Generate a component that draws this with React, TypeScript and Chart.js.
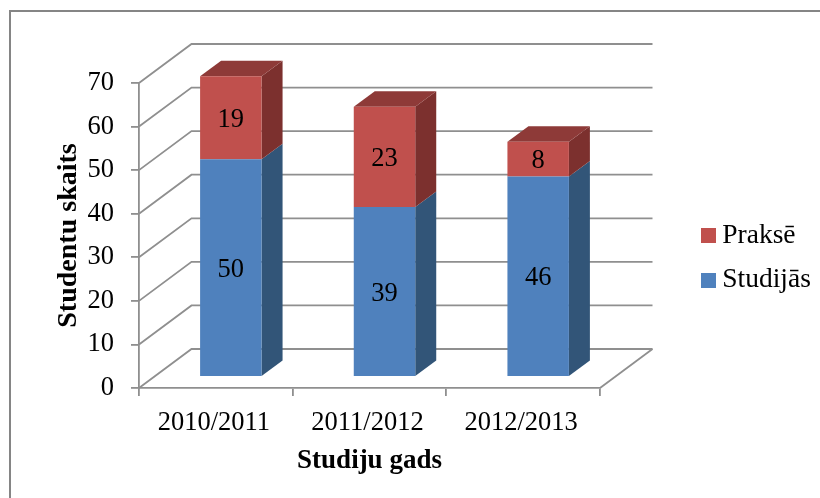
import React, { useEffect, useRef } from "react";
import { Chart, registerables } from "chart.js";

Chart.register(...registerables);

const years = ["2010/2011", "2011/2012", "2012/2013"];
const studijas = [50, 39, 46];
const prakse = [19, 23, 8];
const yMax = 70;
const yStep = 10;

const FONT = "'Liberation Serif', serif";
const GRID = "#8f8f8f";
const BLUE = { front: "#4F81BD", side: "#325578", top: "#3b638f" };
const RED = { front: "#C0504D", side: "#7C302E", top: "#8E3A38" };

// depth offsets of the pseudo-3D box (pixels)
const WALL = { dx: 52.5, dy: -39 };
const BAR_FRONT = { dx: 15, dy: -11 };
const BAR_DEPTH = { dx: 21, dy: -15.5 };

function swatch(color: string) {
  const c = document.createElement("canvas");
  c.width = 15;
  c.height = 15;
  const g = c.getContext("2d")!;
  g.fillStyle = color;
  g.fillRect(0, 0, 15, 15);
  return c;
}

const scene3d = {
  id: "scene3d",
  beforeDraw(chart: any) {
    const { ctx } = chart;
    ctx.save();
    ctx.strokeStyle = "#858585";
    ctx.lineWidth = 2;
    ctx.beginPath();
    ctx.moveTo(10, 498);
    ctx.lineTo(10, 11);
    ctx.lineTo(820, 11);
    ctx.stroke();
    ctx.restore();
  },
  afterLayout(chart: any) {
    const lg = chart.legend;
    lg.left = 690.5;
    lg.right = lg.left + lg.width;
    lg.top = 205;
    lg.bottom = lg.top + lg.height;
  },
  beforeDatasetsDraw(chart: any) {
    const { ctx, scales } = chart;
    const xs = scales.x;
    const ys = scales.y;
    const x0 = xs.left;
    const x1 = xs.right;
    ctx.save();
    ctx.strokeStyle = GRID;
    ctx.lineWidth = 1.8;
    ys.ticks.forEach((t: any) => {
      const y = ys.getPixelForValue(t.value);
      ctx.beginPath();
      ctx.moveTo(x0, y);
      ctx.lineTo(x0 + WALL.dx, y + WALL.dy);
      ctx.lineTo(x1 + WALL.dx, y + WALL.dy);
      ctx.stroke();
    });
    const yb = ys.getPixelForValue(0);
    ctx.beginPath();
    ctx.moveTo(x1, yb);
    ctx.lineTo(x1 + WALL.dx, yb + WALL.dy);
    ctx.stroke();

    // side and top faces of the stacked bars
    chart.data.datasets.forEach((_: any, di: number) => {
      const pal = di === 0 ? BLUE : RED;
      chart.getDatasetMeta(di).data.forEach((el: any) => {
        const { x, y, base, width } = el.getProps(["x", "y", "base", "width"], true);
        const r = x + width / 2 + BAR_FRONT.dx;
        const l = x - width / 2 + BAR_FRONT.dx;
        const t = y + BAR_FRONT.dy;
        const b = base + BAR_FRONT.dy;
        ctx.fillStyle = pal.side;
        ctx.beginPath();
        ctx.moveTo(r, t);
        ctx.lineTo(r + BAR_DEPTH.dx, t + BAR_DEPTH.dy);
        ctx.lineTo(r + BAR_DEPTH.dx, b + BAR_DEPTH.dy);
        ctx.lineTo(r, b);
        ctx.closePath();
        ctx.fill();
        if (di === chart.data.datasets.length - 1) {
          ctx.fillStyle = pal.top;
          ctx.beginPath();
          ctx.moveTo(l, t);
          ctx.lineTo(l + BAR_DEPTH.dx, t + BAR_DEPTH.dy);
          ctx.lineTo(r + BAR_DEPTH.dx, t + BAR_DEPTH.dy);
          ctx.lineTo(r, t);
          ctx.closePath();
          ctx.fill();
        }
      });
    });
    ctx.restore();
  },
  beforeDatasetDraw(chart: any) {
    chart.ctx.save();
    chart.ctx.translate(BAR_FRONT.dx, BAR_FRONT.dy);
  },
  afterDatasetDraw(chart: any) {
    chart.ctx.restore();
  },
  afterDatasetsDraw(chart: any) {
    const { ctx } = chart;
    ctx.save();
    ctx.fillStyle = "#000";
    ctx.font = `26.5px ${FONT}`;
    ctx.textAlign = "center";
    ctx.textBaseline = "middle";
    chart.data.datasets.forEach((ds: any, di: number) => {
      chart.getDatasetMeta(di).data.forEach((el: any, i: number) => {
        const { x, y, base } = el.getProps(["x", "y", "base"], true);
        ctx.fillText(String(ds.data[i]), x + BAR_FRONT.dx, (y + base) / 2 + BAR_FRONT.dy + 2);
      });
    });
    ctx.restore();
  },
};

export default function App() {
  const ref = useRef<HTMLCanvasElement>(null);
  useEffect(() => {
    const swatches: Record<string, HTMLCanvasElement> = {
      "Studijās": swatch(BLUE.front),
      "Praksē": swatch(RED.front),
    };
    const chart = new Chart(ref.current!, {
      type: "bar",
      plugins: [scene3d],
      data: {
        labels: years,
        datasets: [
          { label: "Studijās", data: studijas, backgroundColor: BLUE.front, borderWidth: 0, clip: false as any },
          { label: "Praksē", data: prakse, backgroundColor: RED.front, borderWidth: 0, clip: false as any },
        ],
      },
      options: {
        responsive: false,
        animation: false,
        events: [],
        devicePixelRatio: 1,
        layout: { padding: { left: 52, top: 83, right: 220, bottom: 21 } },
        datasets: { bar: { barPercentage: 0.4, categoryPercentage: 1 } },
        plugins: {
          tooltip: { enabled: false },
          legend: {
            position: "chartArea",
            align: "start",
            reverse: true,
            labels: {
              usePointStyle: true,
              pointStyleWidth: 1,
              padding: 17,
              color: "#000",
              font: { family: FONT, size: 27.5 },
              generateLabels: (c: any) =>
                Chart.defaults.plugins.legend.labels
                  .generateLabels(c)
                  .map((it: any) => ({ ...it, pointStyle: swatches[it.text], lineWidth: 0 })),
            },
          } as any,
        },
        scales: {
          x: {
            stacked: true,
            afterFit: (s: any) => {
              s.height = 89;
            },
            border: { color: GRID, width: 1.8 },
            grid: { drawOnChartArea: false, tickLength: 8, color: GRID, lineWidth: 1.8 },
            ticks: { color: "#000", font: { family: FONT, size: 26.5 }, padding: 11, labelOffset: -2, maxRotation: 0, autoSkip: false },
            title: {
              display: true,
              text: "Studiju gads",
              color: "#000",
              font: { family: FONT, size: 27, weight: "bold" },
              padding: 0,
            },
          },
          y: {
            stacked: true,
            min: 0,
            max: yMax,
            afterFit: (s: any) => {
              s.width = 87;
            },
            border: { color: GRID, width: 1.8 },
            grid: { drawOnChartArea: false, tickLength: 8, color: GRID, lineWidth: 1.8 },
            ticks: { stepSize: yStep, color: "#000", font: { family: FONT, size: 26.5 }, padding: 17 },
            title: {
              display: true,
              text: "Studentu skaits",
              color: "#000",
              font: { family: FONT, size: 28, weight: "bold" },
              padding: 0,
            },
          },
        },
      } as any,
    });
    return () => chart.destroy();
  }, []);
  return (
    <div style={{ position: "fixed", left: 0, top: 0, width: 820, height: 498, background: "#fff" }}>
      <canvas ref={ref} width={820} height={498} style={{ display: "block" }} />
    </div>
  );
}
